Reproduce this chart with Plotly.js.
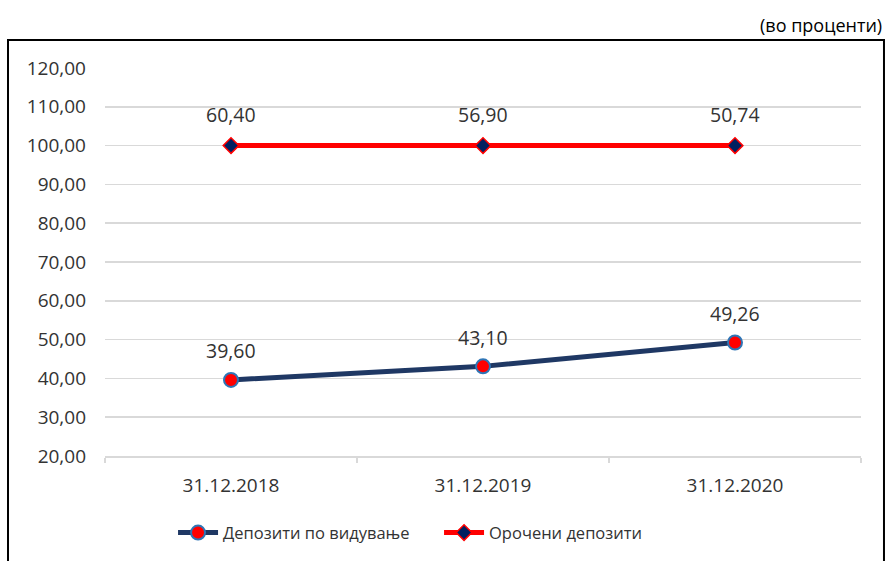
<!DOCTYPE html>
<html>
<head>
<meta charset="utf-8">
<script src="https://cdn.plot.ly/plotly-3.0.1.min.js"></script>
<style>
  html, body { margin: 0; padding: 0; background: #fff; }
  #chart { width: 887px; height: 561px; }
</style>
</head>
<body>
<div id="chart"></div>
<script>
// deposit structure, in percent
const dates = ["31.12.2018", "31.12.2019", "31.12.2020"];
const demandDeposits = [39.60, 43.10, 49.26];
const timeDeposits = [60.40, 56.90, 50.74];

// the second series is drawn stacked on top of the first
const stackedTotal = demandDeposits.map((v, i) => v + timeDeposits[i]);

const fmt = (v) => v.toFixed(2).replace(".", ",");
const font = "Open Sans, Noto Sans, sans-serif";
const textColor = "#333333";

const traces = [
  {
    x: dates,
    y: demandDeposits,
    mode: "lines+markers",
    name: "Депозити по видување",
    line: { color: "#1f3864", width: 5 },
    marker: { symbol: "circle", size: 14, color: "#ff0000", line: { color: "#2e75b6", width: 2 } },
    hoverinfo: "skip",
  },
  {
    x: dates,
    y: stackedTotal,
    mode: "lines+markers",
    name: "Орочени депозити",
    line: { color: "#ff0000", width: 5 },
    marker: { symbol: "diamond", size: 12, color: "#002060", line: { color: "#ff0000", width: 1.5 } },
    hoverinfo: "skip",
  },
];

const labels = [];
dates.forEach((d, i) => {
  labels.push({ x: d, y: demandDeposits[i], text: fmt(demandDeposits[i]), yshift: 29 });
  labels.push({ x: d, y: stackedTotal[i], text: fmt(timeDeposits[i]), yshift: 31 });
});
const annotations = labels.map((a) => ({
  x: a.x,
  y: a.y,
  xref: "x",
  yref: "y",
  text: a.text,
  showarrow: false,
  yshift: a.yshift,
  font: { family: font, size: 19.5, color: textColor },
}));

annotations.push({
  xref: "paper",
  yref: "paper",
  x: 1.0304,
  y: 1.11,
  xanchor: "right",
  yanchor: "middle",
  text: "(во проценти)",
  showarrow: false,
  font: { family: font, size: 18, color: "#000" },
});

const layout = {
  width: 887,
  height: 561,
  margin: { l: 105, r: 26, t: 68, b: 104 },
  paper_bgcolor: "#fff",
  plot_bgcolor: "#fff",
  separators: ",.",
  showlegend: true,
  legend: {
    orientation: "h",
    x: 0.09,
    xanchor: "left",
    y: -0.195,
    yanchor: "middle",
    font: { family: font, size: 16.5, color: textColor },
    itemwidth: 40,
    entrywidth: 211,
    entrywidthmode: "pixels",
  },
  xaxis: {
    type: "category",
    range: [-0.5, 2.5],
    showline: true,
    linecolor: "#d9d9d9",
    linewidth: 1.5,
    ticks: "outside",
    tickson: "boundaries",
    ticklen: 5,
    tickcolor: "#d9d9d9",
    tickwidth: 1.5,
    showgrid: false,
    ticklabelstandoff: 12,
    tickfont: { family: font, size: 19, color: textColor },
    fixedrange: true,
  },
  yaxis: {
    range: [20, 120],
    dtick: 10,
    tickformat: ".2f",
    showline: false,
    zeroline: false,
    gridcolor: "#d9d9d9",
    gridwidth: 1.5,
    ticks: "",
    ticklabelstandoff: 18,
    tickfont: { family: font, size: 19, color: textColor },
    fixedrange: true,
  },
  shapes: [
    {
      type: "path",
      xref: "paper",
      yref: "paper",
      path: "M -0.1283,-0.3 L -0.1283,1.072 L 1.0304,1.072 L 1.0304,-0.3",
      line: { color: "#000", width: 2 },
    },
  ],
  annotations: annotations,
};

Plotly.newPlot("chart", traces, layout, { displayModeBar: false, staticPlot: true });
</script>
</body>
</html>
